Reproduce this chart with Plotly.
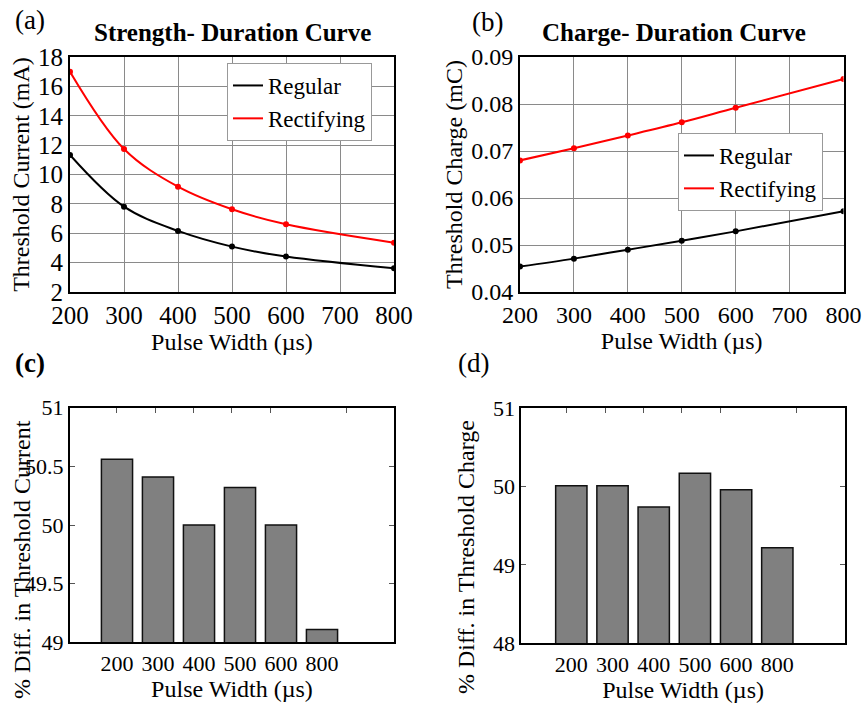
import plotly.graph_objects as go

# ---------------- data ----------------
pulse_width = [200, 300, 400, 500, 600, 800]
current_regular = [11.33, 7.81, 6.16, 5.09, 4.41, 3.61]
current_rectifying = [17.0, 11.74, 9.17, 7.63, 6.61, 5.36]
charge_regular = [0.0454, 0.0471, 0.0490, 0.0509, 0.0529, 0.0572]
charge_rectifying = [0.0680, 0.0706, 0.0733, 0.0761, 0.0792, 0.0853]
bar_labels = ["200", "300", "400", "500", "600", "800"]
diff_current = [50.56, 50.41, 50.0, 50.32, 50.0, 49.11]
diff_charge = [50.01, 50.01, 49.74, 50.17, 49.96, 49.22]

W, H = 862, 708
FONT = "Liberation Serif"
RED = "#ff0000"


def fx(p):
    return p / W


def fy(p):
    return 1 - p / H


fig = go.Figure()


def add_series(x, y, name, color, xa, ya, leg):
    fig.add_trace(go.Scatter(x=x, y=y, name=name, mode="lines",
                             line=dict(color=color, width=2, shape="spline"),
                             xaxis=xa, yaxis=ya, legend=leg))
    fig.add_trace(go.Scatter(x=x, y=y, name=name, mode="markers",
                             marker=dict(size=6, color=color),
                             xaxis=xa, yaxis=ya, showlegend=False))


add_series(pulse_width, current_regular, "Regular", "black", "x", "y", "legend")
add_series(pulse_width, current_rectifying, "Rectifying", RED, "x", "y", "legend")
add_series(pulse_width, charge_regular, "Regular", "black", "x2", "y2", "legend2")
add_series(pulse_width, charge_rectifying, "Rectifying", RED, "x2", "y2", "legend2")

bar_style = dict(color="#808080", line=dict(color="#111111", width=1.5))
fig.add_trace(go.Bar(x=bar_labels, y=diff_current, width=0.76, marker=bar_style,
                     xaxis="x3", yaxis="y3", showlegend=False))
fig.add_trace(go.Bar(x=bar_labels, y=diff_charge, width=0.76, marker=bar_style,
                     xaxis="x4", yaxis="y4", showlegend=False))
# traces that carry the top tick axes of the bar panels (no visible marks)
fig.add_trace(go.Scatter(x=pulse_width, y=diff_current, mode="markers", marker=dict(opacity=0),
                         xaxis="x5", yaxis="y3", showlegend=False, hoverinfo="skip"))
fig.add_trace(go.Scatter(x=pulse_width, y=diff_charge, mode="markers", marker=dict(opacity=0),
                         xaxis="x6", yaxis="y4", showlegend=False, hoverinfo="skip"))

tickfont_big = dict(family=FONT, size=25, color="black")
tickfont_mid = dict(family=FONT, size=24, color="black")
tickfont_small = dict(family=FONT, size=22, color="black")
titlefont = dict(family=FONT, size=24, color="black")
grid = "#8a8a8a"

line_x = dict(range=[200, 800], tickvals=[200, 300, 400, 500, 600, 700, 800], showgrid=True,
              gridcolor=grid, gridwidth=1, showline=True, linecolor="black", linewidth=2,
              mirror=True, ticks="", zeroline=False, automargin=False,
              title=dict(text="Pulse Width (µs)", font=titlefont, standoff=0))

top_ticks = dict(side="top", tickvals=pulse_width, ticks="inside", ticklen=5, tickwidth=1,
                 tickcolor="#555555", showticklabels=False, showgrid=False, showline=False,
                 zeroline=False, automargin=False)

fig.update_layout(
    width=W, height=H, margin=dict(l=0, r=0, t=0, b=0),
    paper_bgcolor="white", plot_bgcolor="white",
    font=dict(family=FONT, color="black"),
    xaxis=dict(line_x, domain=[fx(70), fx(394)], anchor="y", tickfont=tickfont_big),
    yaxis=dict(domain=[fy(292), fy(57)], anchor="x", range=[2, 18], dtick=2, showgrid=True,
               gridcolor=grid, showline=True, linecolor="black", linewidth=2, mirror=True,
               ticks="", tickfont=tickfont_big, zeroline=False, automargin=False,
               title=dict(text="Threshold Current (mA)", font=titlefont, standoff=2)),
    xaxis2=dict(line_x, domain=[fx(520), fx(843.5)], anchor="y2", tickfont=tickfont_mid),
    yaxis2=dict(domain=[fy(292), fy(57)], anchor="x2", range=[0.04, 0.09], dtick=0.01,
                tickformat=".2f", showgrid=True, gridcolor=grid, showline=True, linecolor="black",
                linewidth=2, mirror=True, ticks="", tickfont=tickfont_mid,
                zeroline=False, automargin=False,
                title=dict(text="Threshold Charge (mC)", font=titlefont, standoff=2)),
    xaxis3=dict(domain=[fx(70), fx(394)], anchor="y3", type="category", range=[-1.146, 6.756],
                showline=True, linecolor="black", linewidth=2, mirror=True, ticks="",
                tickfont=tickfont_small, showgrid=False, automargin=False,
                title=dict(text="Pulse Width (µs)", font=titlefont, standoff=0)),
    yaxis3=dict(domain=[fy(642.3), fy(407.7)], anchor="x3", range=[49, 51],
                tickvals=[49, 49.5, 50, 50.5, 51], ticktext=["49", "49.5", "50", "50.5", "51"],
                showline=True, linecolor="black", linewidth=2, mirror="ticks", ticks="inside",
                ticklen=5, tickcolor="#555555", tickfont=tickfont_small, showgrid=False,
                zeroline=False, automargin=False),
    xaxis4=dict(domain=[fx(521.3), fx(845)], anchor="y4", type="category", range=[-1.214, 6.643],
                showline=True, linecolor="black", linewidth=2, mirror=True, ticks="",
                tickfont=tickfont_small, showgrid=False, automargin=False,
                title=dict(text="Pulse Width (µs)", font=titlefont, standoff=0)),
    yaxis4=dict(domain=[fy(643.3), fy(408.3)], anchor="x4", range=[48, 51], dtick=1,
                showline=True, linecolor="black", linewidth=2, mirror="ticks", ticks="inside",
                ticklen=5, tickcolor="#555555", tickfont=tickfont_small, showgrid=False,
                zeroline=False, automargin=False),
    xaxis5=dict(top_ticks, overlaying="x3", anchor="y3", range=[78.2, 923.4]),
    xaxis6=dict(top_ticks, overlaying="x4", anchor="y4", range=[81.6, 926]),
    legend=dict(x=fx(227), y=fy(63), xanchor="left", yanchor="top", bgcolor="white",
                bordercolor="#999999", borderwidth=1, font=dict(family=FONT, size=23, color="black"),
                tracegroupgap=0, itemwidth=30),
    legend2=dict(x=fx(678), y=fy(133), xanchor="left", yanchor="top", bgcolor="white",
                 bordercolor="#999999", borderwidth=1, font=dict(family=FONT, size=23, color="black"),
                 tracegroupgap=0, itemwidth=30),
    showlegend=True,
)

ann = [
    dict(text="(a)", x=fx(30), y=fy(20), font=dict(family=FONT, size=27)),
    dict(text="(b)", x=fx(487), y=fy(22), font=dict(family=FONT, size=27)),
    dict(text="<b>(c)</b>", x=fx(30), y=fy(363), font=dict(family=FONT, size=27)),
    dict(text="(d)", x=fx(473), y=fy(363), font=dict(family=FONT, size=27)),
    dict(text="<b>Strength- Duration Curve</b>", x=fx(232), y=fy(32), font=dict(family=FONT, size=25)),
    dict(text="<b>Charge- Duration Curve</b>", x=fx(674), y=fy(32), font=dict(family=FONT, size=25)),
    dict(text="% Diff. in Threshold Current", x=fx(22), y=fy(560), textangle=-90,
         font=dict(family=FONT, size=24)),
    dict(text="% Diff. in Threshold Charge", x=fx(466), y=fy(557), textangle=-90,
         font=dict(family=FONT, size=24)),
]
for a in ann:
    a.update(xref="paper", yref="paper", showarrow=False, xanchor="center", yanchor="middle")
    a["font"]["color"] = "black"
fig.update_layout(annotations=ann)

fig.write_html("out.html")
